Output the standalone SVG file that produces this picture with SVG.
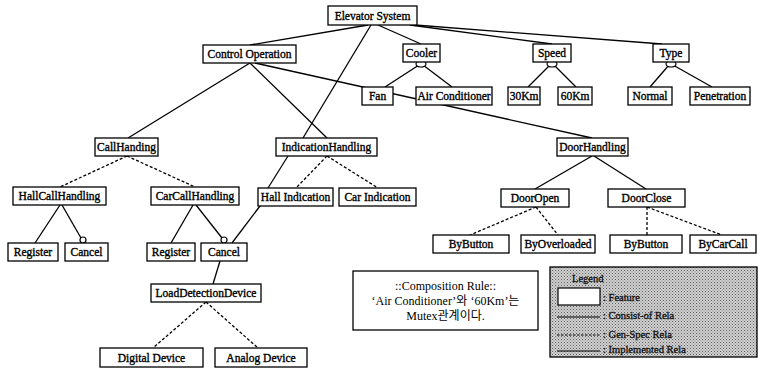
<svg xmlns="http://www.w3.org/2000/svg" width="764" height="378" viewBox="0 0 764 378">
  <style>
    .box { fill: #fff; stroke: #000; stroke-width: 1.3; }
    .t { font-family: "Liberation Serif", "Times New Roman", serif; font-size: 11.5px; text-anchor: middle; fill: #000; stroke: #000; stroke-width: 0.35; }
    .c { stroke: #000; stroke-width: 1.3; fill: none; }
    .d { stroke: #000; stroke-width: 1.3; fill: none; stroke-dasharray: 3 2; }
    .alt { fill: #fff; stroke: #000; stroke-width: 1.2; }
    .note { font-family: "Liberation Serif", "Noto Sans CJK KR", serif; font-size: 12px; text-anchor: middle; fill: #000; }
    .lg { font-family: "Liberation Serif", "Times New Roman", serif; font-size: 10.5px; fill: #111; stroke: #111; stroke-width: 0.3; }
  </style>
  <defs>
    <pattern id="halftone" width="3" height="3" patternUnits="userSpaceOnUse">
      <rect width="3" height="3" fill="#cfcfcf"/>
      <rect x="0" y="0" width="1" height="1" fill="#5e5e5e"/>
      <rect x="1.5" y="1.5" width="1" height="1" fill="#808080"/>
    </pattern>
  </defs>

  <!-- relations -->
  <g id="connectors">
    <!-- consist-of (solid) -->
    <path class="c" d="M368 25 L250 45"/>
    <path class="c" d="M371 25 L303 138"/>
    <path class="c" d="M378 25 L421 44"/>
    <path class="c" d="M410 25 L552 44"/>
    <path class="c" d="M415 25 L662 44"/>
    <path class="c" d="M250 63 L128 138"/>
    <path class="c" d="M250 63 L327 138"/>
    <path class="c" d="M255 63 L592 138"/>
    <path class="c" d="M419 65 L385 87"/>
    <path class="c" d="M423 65 L452 87"/>
    <path class="c" d="M550 65 L528 87"/>
    <path class="c" d="M554 65 L576 87"/>
    <path class="c" d="M669 65 L650 87"/>
    <path class="c" d="M673 65 L712 87"/>
    <path class="c" d="M592 156 L535 189"/>
    <path class="c" d="M594 156 L646 189"/>
    <path class="c" d="M60 205 L35 243"/>
    <path class="c" d="M62 205 L81 238"/>
    <path class="c" d="M193 205 L171 243"/>
    <path class="c" d="M196 205 L222 238"/>
    <path class="c" d="M288 156 L268 188"/>
    <path class="c" d="M260 206 L232 243"/>
    <path class="c" d="M220 261 L213 284"/>
    <!-- alternative groups -->
    <ellipse class="alt" cx="421" cy="64" rx="5" ry="3"/>
    <ellipse class="alt" cx="552" cy="64" rx="5" ry="3"/>
    <ellipse class="alt" cx="671" cy="64" rx="5" ry="3"/>
    <!-- optional features -->
    <circle class="alt" cx="83" cy="240" r="3"/>
    <circle class="alt" cx="224" cy="240" r="3"/>
    <!-- gen-spec (dashed) -->
    <path class="d" d="M127 156 L60 187"/>
    <path class="d" d="M127 156 L195 187"/>
    <path class="d" d="M327 156 L296 188"/>
    <path class="d" d="M327 156 L378 188"/>
    <path class="d" d="M536 207 L470 235"/>
    <path class="d" d="M536 207 L558 235"/>
    <path class="d" d="M647 207 L647 235"/>
    <path class="d" d="M647 207 L722 235"/>
    <path class="d" d="M206 302 L153 348"/>
    <path class="d" d="M206 302 L258 348"/>
  </g>

  <g id="elevator-system"><rect class="box" x="328" y="6" width="89" height="19"/><text class="t" x="372.5" y="19.5">Elevator System</text></g>
  <g id="control-operation"><rect class="box" x="203" y="45" width="93" height="18"/><text class="t" x="249.5" y="58">Control Operation</text></g>
  <g id="cooler"><rect class="box" x="403" y="44" width="37" height="18"/><text class="t" x="421.5" y="57">Cooler</text></g>
  <g id="speed"><rect class="box" x="533" y="44" width="38" height="18"/><text class="t" x="552" y="57">Speed</text></g>
  <g id="type"><rect class="box" x="653" y="44" width="36" height="18"/><text class="t" x="671" y="57">Type</text></g>
  <g id="fan"><rect class="box" x="362" y="87" width="31" height="18"/><text class="t" x="377.5" y="100">Fan</text></g>
  <g id="air-conditioner"><rect class="box" x="416" y="87" width="76" height="18"/><text class="t" x="454" y="100">Air Conditioner</text></g>
  <g id="speed-30"><rect class="box" x="508" y="87" width="32" height="18"/><text class="t" x="524" y="100">30Km</text></g>
  <g id="speed-60"><rect class="box" x="558" y="87" width="34" height="18"/><text class="t" x="575" y="100">60Km</text></g>
  <g id="normal"><rect class="box" x="628" y="87" width="44" height="18"/><text class="t" x="650" y="100">Normal</text></g>
  <g id="penetration"><rect class="box" x="690" y="87" width="60" height="18"/><text class="t" x="720" y="100">Penetration</text></g>

  <g id="call-handing"><rect class="box" x="95" y="138" width="63" height="18"/><text class="t" x="126.5" y="151">CallHanding</text></g>
  <g id="indication-handling"><rect class="box" x="276" y="138" width="101" height="18"/><text class="t" x="326.5" y="151">IndicationHandling</text></g>
  <g id="door-handling"><rect class="box" x="557" y="138" width="71" height="18"/><text class="t" x="592.5" y="151">DoorHandling</text></g>

  <g id="hall-call-handling"><rect class="box" x="13" y="187" width="93" height="18"/><text class="t" x="59.5" y="200">HallCallHandling</text></g>
  <g id="car-call-handling"><rect class="box" x="151" y="187" width="88" height="18"/><text class="t" x="195" y="200">CarCallHandling</text></g>
  <g id="hall-indication"><rect class="box" x="258" y="188" width="75" height="18"/><text class="t" x="295.5" y="201">Hall Indication</text></g>
  <g id="car-indication"><rect class="box" x="339" y="188" width="77" height="18"/><text class="t" x="377.5" y="201">Car Indication</text></g>
  <g id="door-open"><rect class="box" x="501" y="189" width="68" height="18"/><text class="t" x="535" y="202">DoorOpen</text></g>
  <g id="door-close"><rect class="box" x="608" y="189" width="77" height="18"/><text class="t" x="646.5" y="202">DoorClose</text></g>

  <g id="register-hall"><rect class="box" x="8" y="243" width="50" height="18"/><text class="t" x="33" y="256">Register</text></g>
  <g id="cancel-hall"><rect class="box" x="65" y="243" width="43" height="18"/><text class="t" x="86.5" y="256">Cancel</text></g>
  <g id="register-car"><rect class="box" x="147" y="243" width="48" height="18"/><text class="t" x="171" y="256">Register</text></g>
  <g id="cancel-car"><rect class="box" x="201" y="243" width="46" height="18"/><text class="t" x="224" y="256">Cancel</text></g>
  <g id="open-by-button"><rect class="box" x="433" y="235" width="76" height="18"/><text class="t" x="471" y="248">ByButton</text></g>
  <g id="by-overloaded"><rect class="box" x="521" y="235" width="74" height="18"/><text class="t" x="558" y="248">ByOverloaded</text></g>
  <g id="close-by-button"><rect class="box" x="610" y="235" width="72" height="18"/><text class="t" x="646" y="248">ByButton</text></g>
  <g id="by-car-call"><rect class="box" x="690" y="235" width="66" height="18"/><text class="t" x="723" y="248">ByCarCall</text></g>

  <g id="load-detection-device"><rect class="box" x="151" y="284" width="110" height="18"/><text class="t" x="206" y="297">LoadDetectionDevice</text></g>
  <g id="digital-device"><rect class="box" x="100" y="348" width="103" height="19"/><text class="t" x="151.5" y="361.5">Digital Device</text></g>
  <g id="analog-device"><rect class="box" x="215" y="348" width="92" height="19"/><text class="t" x="261" y="361.5">Analog Device</text></g>

  <!-- composition rule note -->
  <g id="composition-rule">
    <rect class="box" x="353" y="271" width="185" height="59"/>
    <text class="note" x="445.5" y="290">::Composition Rule::</text>
    <text class="note" x="445.5" y="305">‘Air Conditioner’와 ‘60Km’는</text>
    <text class="note" x="445.5" y="320">Mutex관계이다.</text>
  </g>

  <!-- legend -->
  <g id="legend">
    <rect x="550" y="267" width="207" height="90" fill="url(#halftone)" stroke="#000" stroke-width="1.3"/>
    <text class="lg" x="572" y="282" font-size="9px">Legend</text>
    <rect x="558" y="288" width="42" height="17" fill="#fff" stroke="#000" stroke-width="1.2"/>
    <text class="lg" x="603" y="301">: Feature</text>
    <line x1="557" y1="317" x2="600" y2="317" stroke="#000" stroke-width="1"/>
    <text class="lg" x="603" y="319">: Consist-of Rela</text>
    <line x1="557" y1="335" x2="600" y2="335" stroke="#000" stroke-width="1" stroke-dasharray="2.5 1.5"/>
    <text class="lg" x="603" y="338">: Gen-Spec Rela</text>
    <line x1="557" y1="351" x2="600" y2="351" stroke="#000" stroke-width="1"/>
    <text class="lg" x="603" y="353">: Implemented Rela</text>
  </g>
</svg>
